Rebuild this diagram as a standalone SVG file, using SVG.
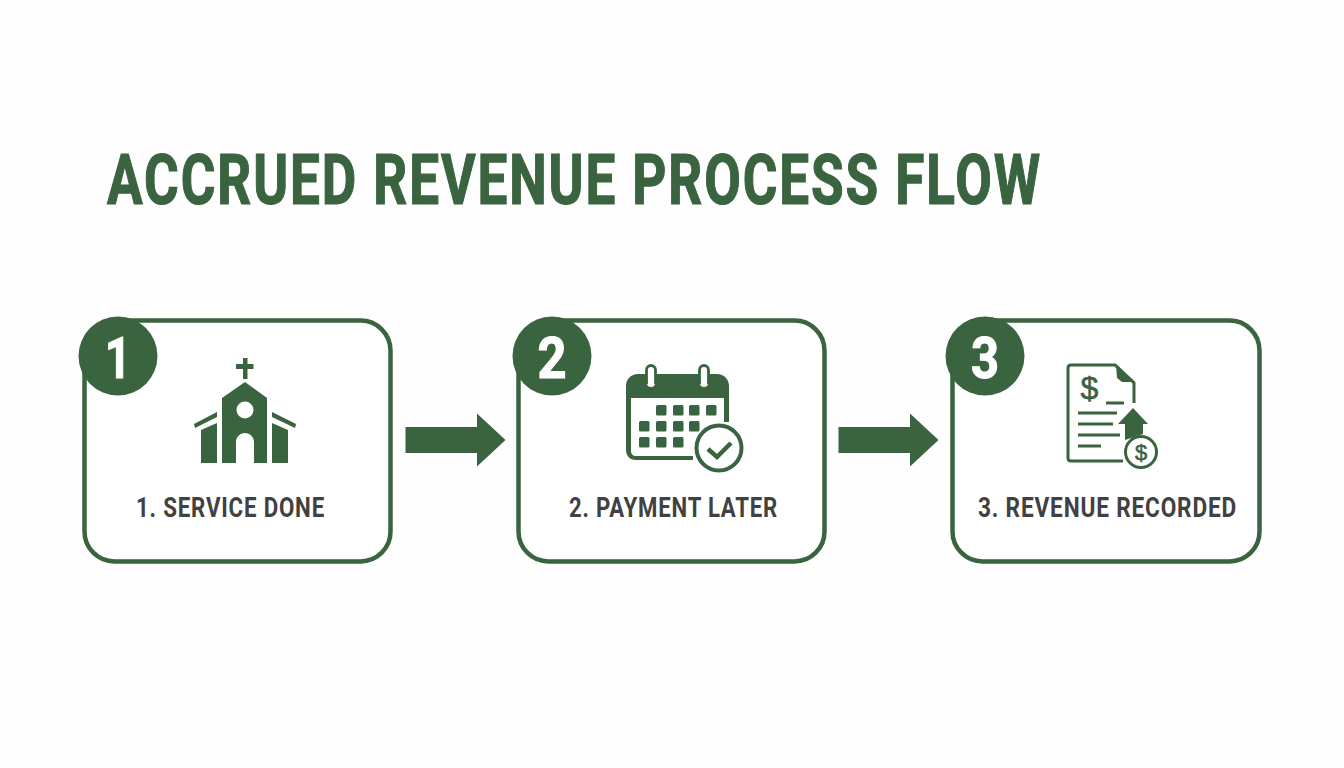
<svg xmlns="http://www.w3.org/2000/svg" width="1344" height="768" viewBox="0 0 1344 768">
<style>
text{font-family:Roboto,"Liberation Sans",sans-serif;font-weight:700}
.title{font-size:70px;fill:#3a633f;stroke:#3a633f;stroke-width:1.2;letter-spacing:2.5px}
.card{fill:#fff;stroke:#3a633f;stroke-width:4.5}
.badge{fill:#3a633f}
.num{font-size:57px;fill:#fff;stroke:#fff;stroke-width:1.2;text-anchor:middle}
.label{font-size:28px;fill:#414141;letter-spacing:1px}
.g{fill:#3a633f}
.l{fill:none;stroke:#3a633f;stroke-width:3;stroke-linecap:butt}
.d{fill:#3a633f;stroke:#3a633f;stroke-width:.6;text-anchor:middle;font-family:"Liberation Sans",sans-serif;font-weight:400}
</style>
<rect width="1344" height="768" fill="#fdfefd"/>
<text id="title" class="title" x="107" y="204" textLength="935" lengthAdjust="spacingAndGlyphs">ACCRUED REVENUE PROCESS FLOW</text>
<g id="connectors">
<polygon class="g" points="405.500,427 477,427 477,413.500 505.500,440 477,466.500 477,453 405.500,453"/>
<polygon class="g" points="838.500,427 910,427 910,413.500 938.500,440 910,466.500 910,453 838.500,453"/>
</g>
<g id="node1">
<rect class="card" x="84.500" y="320.500" width="306" height="241" rx="30"/>
<circle class="badge" cx="118" cy="356" r="39.500"/>
<text class="num" x="118" y="378" textLength="26" lengthAdjust="spacingAndGlyphs">1</text>
<g id="icon-church">
<rect class="g" x="243" y="358" width="4.500" height="21"/>
<rect class="g" x="236" y="364" width="17.500" height="5"/>
<path class="g" fill-rule="evenodd" d="M222,398L245,382L267,398V463H254V442C254,437 250,433 245,433C240,433 236,437 236,442V463H222ZM253.500,410A8.500,8.500 0 1 0 236.500,410A8.500,8.500 0 1 0 253.500,410Z"/>
<polygon class="g" points="201,430 217,423 217,463 201,463"/>
<polygon class="g" points="288,430 272,423 272,463 288,463"/>
<polygon class="g" points="194,424 217,412 217,417 195,428"/>
<polygon class="g" points="296,424 272,412 272,417 295,428"/>
</g>
<text class="label" x="136" y="517" textLength="189" lengthAdjust="spacingAndGlyphs">1. SERVICE DONE</text>
</g>
<g id="node2">
<rect class="card" x="518.500" y="320.500" width="306" height="241" rx="30"/>
<circle class="badge" cx="552" cy="356" r="39.500"/>
<text class="num" x="552" y="378" textLength="29" lengthAdjust="spacingAndGlyphs">2</text>
<g id="icon-calendar">
<path class="g" d="M626,386C626,379 631,374 638,374H717C724,374 729,379 729,386V422H724V398H631V451C631,454 633,456 636,456H693V460H636C630,460 626,456 626,450Z"/>
<path d="M651,368V383M704,368V383" fill="none" stroke="#fff" stroke-width="8" stroke-linecap="round"/>
<path d="M646.500,384V370A4.500,4.500 0 0 1 655.500,370V384M699.500,384V370A4.500,4.500 0 0 1 708.500,370V384" fill="none" stroke="#3a633f" stroke-width="2.800"/>
<g class="g">
<rect x="656" y="405" width="10.500" height="10.500" rx="1.500"/><rect x="673" y="405" width="10.500" height="10.500" rx="1.500"/><rect x="689" y="405" width="10.500" height="10.500" rx="1.500"/><rect x="706" y="405" width="10.500" height="10.500" rx="1.500"/>
<rect x="639" y="421" width="10.500" height="10.500" rx="1.500"/><rect x="656" y="421" width="10.500" height="10.500" rx="1.500"/><rect x="673" y="421" width="10.500" height="10.500" rx="1.500"/><rect x="689" y="421" width="10.500" height="10.500" rx="1.500"/>
<rect x="639" y="437" width="10.500" height="10.500" rx="1.500"/><rect x="656" y="437" width="10.500" height="10.500" rx="1.500"/><rect x="673" y="437" width="10.500" height="10.500" rx="1.500"/>
</g>
<circle cx="719" cy="448" r="22.500" fill="#fff" stroke="#3a633f" stroke-width="4"/>
<path d="M708,449L717,457L731,443" fill="none" stroke="#3a633f" stroke-width="4.500"/>
</g>
<text class="label" x="569" y="517" textLength="209" lengthAdjust="spacingAndGlyphs">2. PAYMENT LATER</text>
</g>
<g id="node3">
<rect class="card" x="952.500" y="320.500" width="307" height="241" rx="30"/>
<circle class="badge" cx="985" cy="356" r="39.500"/>
<text class="num" x="985" y="378" textLength="28" lengthAdjust="spacingAndGlyphs">3</text>
<g id="icon-document">
<path d="M1123,461H1071C1069,461 1068,460 1068,458V368C1068,366 1069,365 1071,365H1115L1134,383V403" fill="none" stroke="#3a633f" stroke-width="3"/>
<polygon class="g" points="1116,364 1135,382 1122,382 1117,378"/>
<text class="d" x="1089.500" y="399" font-size="32">$</text>
<path class="l" d="M1106,403H1124M1078,413H1117M1078,424H1113M1078,435H1120M1078,446H1101"/>
<polygon class="g" points="1133,408 1148,424 1143,424 1143,434 1125,440 1125,424 1118,424"/>
<circle cx="1141" cy="452" r="15.500" fill="#fff" stroke="#3a633f" stroke-width="3"/>
<text class="d" x="1141" y="460" font-size="22">$</text>
</g>
<text class="label" x="978" y="517" textLength="259" lengthAdjust="spacingAndGlyphs">3. REVENUE RECORDED</text>
</g>
</svg>
